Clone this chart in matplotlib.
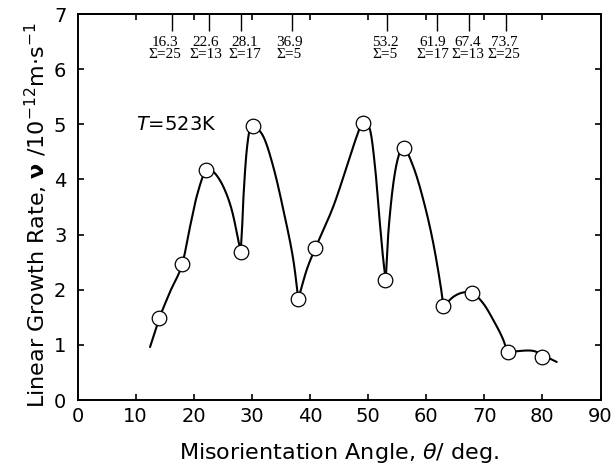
import matplotlib
matplotlib.use("Agg")
import matplotlib.pyplot as plt
import numpy as np

# ---- data ----
theta = [14.1, 18.0, 22.1, 28.1, 30.2, 38.0, 40.9, 49.1, 53.0, 56.1, 62.9, 67.9, 74.0, 79.9]
rate = [1.48, 2.47, 4.17, 2.69, 4.97, 1.83, 2.75, 5.03, 2.18, 4.57, 1.70, 1.94, 0.87, 0.78]

# hand-drawn guide curve (knots; cusps split segments)
curve_x = [12.48, 14.08, 15.92, 18.03, 19.36, 20.51, 22.11, 23.37, 25.09, 26.54, 27.67, 28.08,
           28.31, 28.53, 29.12, 29.69, 30.15, 31.97, 33.69, 35.42, 37.14, 38.0,
           39.44, 40.92, 44.02, 46.33, 48.05, 49.08, 50.34, 51.2, 51.94, 52.62, 53.04,
           53.48, 54.35, 55.21, 56.07, 57.79, 59.51, 61.23, 62.67, 62.95,
           64.67, 66.39, 67.94, 69.83, 71.55, 73.27, 73.96, 78.44, 79.93, 82.46]
curve_y = [0.96, 1.48, 1.96, 2.47, 3.14, 3.69, 4.17, 4.14, 3.87, 3.45, 2.90, 2.68,
           3.08, 3.63, 4.53, 4.93, 4.97, 4.78, 4.23, 3.45, 2.54, 1.83,
           2.36, 2.75, 3.51, 4.23, 4.78, 5.03, 4.90, 4.23, 3.32, 2.54, 2.18,
           3.02, 3.93, 4.41, 4.58, 4.23, 3.63, 2.84, 1.94, 1.69,
           1.87, 1.95, 1.94, 1.75, 1.45, 1.09, 0.87, 0.89, 0.82, 0.69]
curve_cusps = [11, 21, 32, 41, 48]

csl_angles = [16.3, 22.6, 28.1, 36.9, 53.2, 61.9, 67.4, 73.7]
csl_angle_labels = ["16.3", "22.6", "28.1", "36.9", "53.2", "61.9", "67.4", "73.7"]
csl_sigma_labels = ["Σ=25", "Σ=13", "Σ=17", "Σ=5", "Σ=5", "Σ=17", "Σ=13", "Σ=25"]
# small horizontal shifts of the label blocks (deg) as in the reference
label_shift = [-1.2, -0.5, 0.7, -0.5, -0.2, -0.8, -0.2, -0.3]

xticks = [0, 10, 20, 30, 40, 50, 60, 70, 80, 90]
yticks = [0, 1, 2, 3, 4, 5, 6, 7]


def smooth_segment(xs, ys, n=16):
    """Centripetal Catmull-Rom through the knots of one stroke."""
    p = np.column_stack([xs, ys]).astype(float)
    if len(p) < 3:
        return p[:, 0], p[:, 1]
    p = np.vstack([2 * p[0] - p[1], p, 2 * p[-1] - p[-2]])
    out = []
    for i in range(1, len(p) - 2):
        p0, p1, p2, p3 = p[i - 1], p[i], p[i + 1], p[i + 2]
        t0 = 0.0
        t1 = t0 + np.linalg.norm(p1 - p0) ** 0.5
        t2 = t1 + np.linalg.norm(p2 - p1) ** 0.5
        t3 = t2 + np.linalg.norm(p3 - p2) ** 0.5
        t = np.linspace(t1, t2, n)[:, None]
        a1 = (t1 - t) / (t1 - t0) * p0 + (t - t0) / (t1 - t0) * p1
        a2 = (t2 - t) / (t2 - t1) * p1 + (t - t1) / (t2 - t1) * p2
        a3 = (t3 - t) / (t3 - t2) * p2 + (t - t2) / (t3 - t2) * p3
        b1 = (t2 - t) / (t2 - t0) * a1 + (t - t0) / (t2 - t0) * a2
        b2 = (t3 - t) / (t3 - t1) * a2 + (t - t1) / (t3 - t1) * a3
        c = (t2 - t) / (t2 - t1) * b1 + (t - t1) / (t2 - t1) * b2
        out.append(c if i == 1 else c[1:])
    out = np.vstack(out)
    return out[:, 0], out[:, 1]


# ---- style ----
plt.rcParams['font.family'] = ['DejaVu Sans']
plt.rcParams['mathtext.fontset'] = 'dejavusans'

fig = plt.figure(figsize=(6.16, 4.75), dpi=100)
ax = fig.add_axes([77.5 / 616, 75 / 475, 523 / 616, 386 / 475])

bounds = [0] + curve_cusps + [len(curve_x) - 1]
for s, e in zip(bounds[:-1], bounds[1:]):
    sx, sy = smooth_segment(curve_x[s:e + 1], curve_y[s:e + 1])
    ax.plot(sx, sy, color='black', lw=1.5, zorder=2, solid_capstyle='round')

ax.plot(theta, rate, linestyle='none', marker='o', markersize=10.5,
        markerfacecolor='white', markeredgecolor='black', markeredgewidth=0.9, zorder=3)

ax.set_xlim(0, 90)
ax.set_ylim(0, 7)
ax.set_xticks(xticks)
ax.set_yticks(yticks)
ax.tick_params(axis='both', direction='in', length=4.5, width=1.2, labelsize=14, pad=6)
ax.tick_params(axis='y', right=True, pad=8)
ax.tick_params(axis='x', top=False, pad=5)
for sp in ax.spines.values():
    sp.set_linewidth(1.4)

# top axis with CSL angle ticks
sec = ax.secondary_xaxis('top')
sec.set_xticks(csl_angles)
sec.set_xticks(xticks[1:-1], minor=True)
sec.tick_params(which='major', direction='in', length=12, width=1.0, labeltop=False)
sec.tick_params(which='minor', direction='in', length=4.5, width=1.2, labeltop=False)
sec.spines['top'].set_linewidth(1.4)

for a, lab, sig, s in zip(csl_angles, csl_angle_labels, csl_sigma_labels, label_shift):
    ax.text(a + s, 6.37, lab + "\n" + sig, ha='center', va='center', fontsize=11,
            family='Liberation Serif', linespacing=0.92, multialignment='center')

ax.text(10.0, 5.0, r'$T$=523K', ha='left', va='center', fontsize=14)

ax.set_xlabel(r'Misorientation Angle, $\theta$/ deg.', fontsize=16, labelpad=11)
ax.set_ylabel(r'Linear Growth Rate, $\mathbf{\nu}$ /10$^{-12}$m·s$^{-1}$', fontsize=16, labelpad=3)
ax.yaxis.label.set_y(0.48)

fig.savefig('out.png', dpi=100)
